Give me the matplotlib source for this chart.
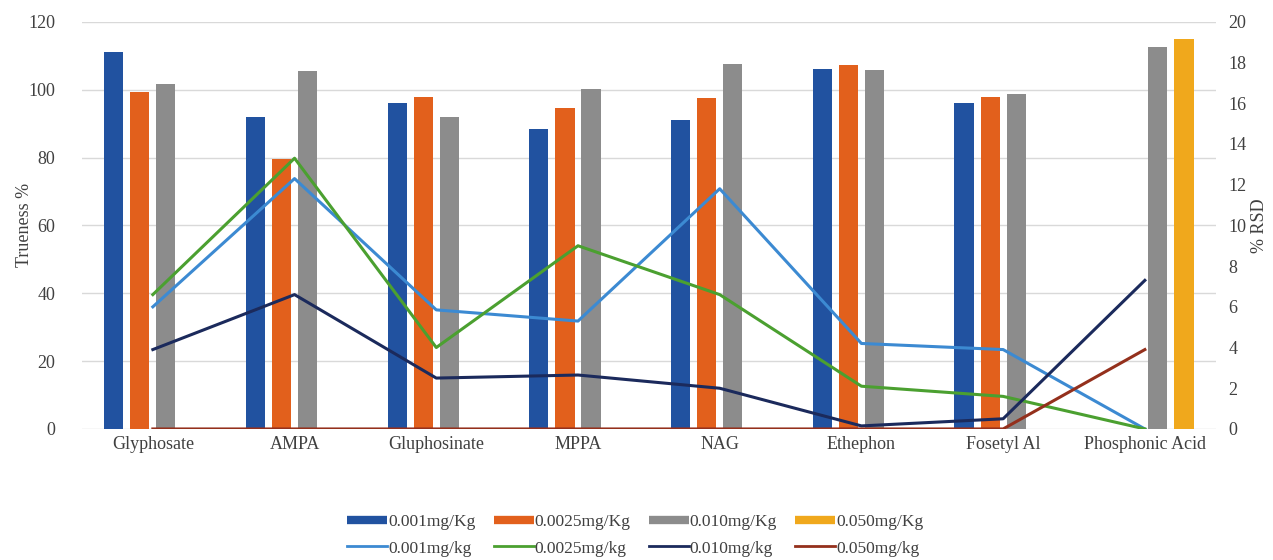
import matplotlib.pyplot as plt
import numpy as np
from matplotlib.lines import Line2D

plt.rcParams["font.family"] = ["Liberation Serif", "DejaVu Serif"]

compounds = ["Glyphosate", "AMPA", "Gluphosinate", "MPPA", "NAG",
             "Ethephon", "Fosetyl Al", "Phosphonic Acid"]

# trueness % (bars, left axis)
true_0001 = [111.1, 92.0, 96.1, 88.4, 91.1, 106.1, 96.1, 0]
true_00025 = [99.4, 79.6, 97.9, 94.6, 97.6, 107.3, 97.9, 0]
true_0010 = [101.7, 105.5, 92.0, 100.2, 107.6, 105.8, 98.8, 112.7]
true_0050 = [0, 0, 0, 0, 0, 0, 0, 114.9]

# % RSD (lines, right axis)
rsd_0001 = [6.0, 12.3, 5.85, 5.3, 11.8, 4.2, 3.9, 0.0]
rsd_00025 = [6.6, 13.3, 4.0, 9.0, 6.6, 2.1, 1.6, 0.0]
rsd_0010 = [3.9, 6.6, 2.5, 2.65, 2.0, 0.15, 0.5, 7.3]
rsd_0050 = [0, 0, 0, 0, 0, 0, 0, 3.9]

bar_series = [
    ("0.001mg/Kg", true_0001, "#2152a0"),
    ("0.0025mg/Kg", true_00025, "#e2601c"),
    ("0.010mg/Kg", true_0010, "#8c8c8c"),
    ("0.050mg/Kg", true_0050, "#f0a81c"),
]
line_series = [
    ("0.001mg/kg", rsd_0001, "#3c8ad2"),
    ("0.0025mg/kg", rsd_00025, "#4ba030"),
    ("0.010mg/kg", rsd_0010, "#1b2a5c"),
    ("0.050mg/kg", rsd_0050, "#94301c"),
]

fig = plt.figure(figsize=(12.73, 5.6), dpi=100)
ax = fig.add_axes([0.0644, 0.234, 0.8906, 0.727])
ax2 = ax.twinx()

x = np.arange(len(compounds))
step = 0.184
width = 0.135
for i, (label, vals, color) in enumerate(bar_series):
    ax.bar(x + (i - 1.5) * step, vals, width=width, color=color, zorder=2)

for label, vals, color in line_series:
    ax2.plot(x, vals, color=color, lw=2.2, zorder=3)

ax.set_xlim(-0.5, len(compounds) - 0.5)
ax.set_ylim(0, 120)
ax.set_yticks(range(0, 121, 20))
ax2.set_ylim(0, 20)
ax2.set_yticks(range(0, 21, 2))
ax.yaxis.grid(True, color="#d9d9d9", lw=1, zorder=0)
ax.set_axisbelow(True)

for a in (ax, ax2):
    for s in a.spines.values():
        s.set_visible(False)
    a.tick_params(length=0, labelsize=13, colors="#404040")

ax.set_xticks(x)
ax.set_xticklabels(compounds, fontsize=13)
ax.tick_params(axis="x", pad=5)
ax.tick_params(axis="y", pad=19)
ax2.tick_params(axis="y", pad=9)

ax.set_ylabel("Trueness %", fontsize=13, color="#404040")
ax.yaxis.set_label_coords(-0.043, 0.5)
ax2.set_ylabel("% RSD", fontsize=13, color="#404040")
ax2.yaxis.set_label_coords(1.031, 0.5)

handles = []
for label, vals, color in bar_series:
    handles.append(Line2D([], [], color=color, lw=6, solid_capstyle="butt", label=label))
for label, vals, color in line_series:
    handles.append(Line2D([], [], color=color, lw=2, label=label))
# matplotlib fills legend column-wise, so interleave rows
order = []
for c in range(4):
    order += [handles[c], handles[c + 4]]
fig.legend(handles=order, loc="center", bbox_to_anchor=(0.499, 0.044), ncol=4,
           frameon=False, fontsize=12.5, handlelength=2.3, handletextpad=0.05,
           columnspacing=1.05, labelspacing=0.58, labelcolor="#404040")

fig.savefig("out.png", dpi=100)
